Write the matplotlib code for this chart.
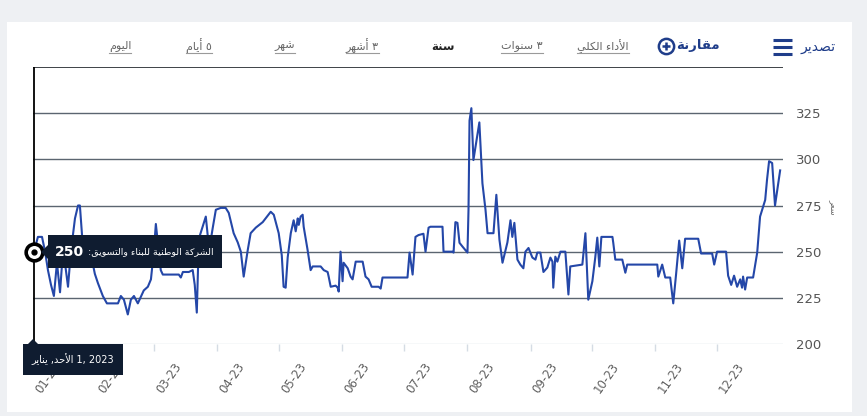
import numpy as np
import pandas as pd
import matplotlib
matplotlib.use("Agg")
import matplotlib.pyplot as plt
from matplotlib.patches import Rectangle, Polygon
from matplotlib.lines import Line2D

W, H = 867, 416

# day of year (0 = 1 Jan 2023) and share price
days = [0.5, 2.4, 4.4, 5.9, 7.3, 8.8, 10.2, 11.7, 13.2, 14.6, 15.6, 17.1, 18.5, 20.5,
        22.0, 22.9, 24.4, 25.4, 29.3, 30.2, 31.7, 34.1, 36.1, 39.0, 41.5, 42.9, 44.4,
        46.3, 47.8, 49.3, 51.2, 54.1, 56.1, 57.6, 59.0, 60.0, 62.4, 63.4, 71.2, 72.2,
        73.2, 76.1, 78.0, 79.0, 80.0, 81.0, 84.4, 85.4, 85.9, 87.8, 89.3, 91.7, 94.1,
        95.6, 98.0, 100.0, 101.5, 102.9, 104.9, 106.3, 108.8, 112.2, 116.1, 117.6,
        120.0, 121.5, 122.4, 123.4, 124.4, 125.9, 127.3, 128.3, 129.3, 129.8, 130.7,
        131.7, 132.2, 134.1, 135.6, 136.6, 140.5, 142.0, 143.9, 144.4, 145.4, 147.8,
        148.8, 149.3, 150.2, 151.2, 151.7, 153.7, 155.1, 156.1, 157.6, 161.0, 162.4,
        163.9, 165.4, 168.8, 169.8, 170.7, 182.9, 183.9, 185.4, 186.8, 188.3, 190.7,
        191.7, 193.2, 194.1, 200.0, 200.5, 204.9, 205.4, 206.3, 207.3, 208.3, 209.8,
        212.2, 212.7, 213.2, 214.1, 215.1, 218.0, 219.5, 221.0, 222.0, 224.9, 226.3,
        227.8, 229.3, 231.7, 233.2, 234.1, 235.1, 236.6, 238.0, 239.5, 240.5, 242.0,
        243.9, 245.4, 246.3, 247.8, 249.3, 251.2, 252.7, 253.7, 254.1, 255.1, 256.1,
        257.6, 260.0, 261.5, 262.4, 268.3, 269.8, 271.2, 273.2, 274.6, 275.6, 276.6,
        277.6, 283.0, 283.4, 284.4, 287.8, 289.3, 290.2, 304.9, 305.4, 307.3, 308.8,
        311.2, 312.7, 314.1, 315.6, 317.1, 318.5, 324.9, 326.3, 331.7, 332.7, 334.1,
        338.5, 339.5, 341.0, 342.4, 343.9, 345.4, 346.3, 346.8, 347.8, 348.8, 351.7,
        353.7, 355.1, 357.6, 358.5, 359.5, 361.0, 362.4, 364.9]
prices = [250, 258, 258, 250, 240, 232, 226, 244, 228, 250, 244, 231, 250, 268,
          275, 275, 252, 243, 243, 238, 233, 226, 222, 222, 222, 226, 224,
          216, 224, 226, 222, 229, 231, 235, 250, 265, 240, 237.6, 237.6, 236,
          239, 239, 240, 232, 217, 257, 269, 258, 250, 263, 272.7, 273.7, 273.7,
          271, 260, 255, 250, 236.5, 251, 260, 263, 266, 271.6, 270,
          260, 248, 231, 230.5, 247, 260, 267, 261, 268, 264.5, 269,
          270, 263.5, 251, 240, 242, 242, 240, 239, 236.5, 231, 231.6,
          230.5, 228.4, 250, 234, 244, 241, 236.5, 235, 244.6, 244.6, 236.5,
          235, 231, 231, 230, 236, 236, 249.5, 237.6, 258, 259, 259.7,
          250, 263, 263.5, 263.5, 250, 250, 249.5, 266, 265.6, 254.8, 252.7,
          249.5, 272.7, 321, 327.7, 299.6, 320, 287, 272.7, 260, 260, 280.8,
          256.5, 244, 255, 267, 258, 265.6, 245.7, 243, 241, 250, 252,
          246.8, 245.7, 249.5, 249.5, 239, 241.4, 246.8, 244.6, 230.5, 247.3, 244.6,
          250, 250, 226.8, 242, 243, 260, 224, 234, 246.8, 257.6, 242,
          258, 258, 254.8, 245.7, 245.7, 238.6, 243, 243, 236.5, 243, 236,
          236, 222, 238, 256, 241, 257, 257, 249, 249, 243, 250,
          250, 237, 232, 237, 231, 235, 230.5, 236.5, 229.5, 236, 236,
          249.5, 269, 278, 289, 299, 298, 275, 294]

y_ticks = [200, 225, 250, 275, 300, 325]
month_starts = pd.date_range("2023-01-01", "2023-12-01", freq="MS")
month_days = [(d - month_starts[0]).days for d in month_starts]
month_labels = [d.strftime("%m-%y") for d in month_starts]

tabs = ["اليوم", "٥ أيام", "شهر", "٣ أشهر", "سنة", "٣ سنوات", "الأداء الكلي"]
tab_x = [120, 199, 285, 362, 443, 522, 603]
selected_tab = "سنة"

BLUE = "#2447a8"
NAVY = "#1f3d8a"
TIP = "#0f1c30"

# minimal Arabic shaping (presentation forms) since matplotlib has no shaper
DUAL = {"ب": 0xFE8F, "ت": 0xFE95, "ح": 0xFEA1, "س": 0xFEB1, "ش": 0xFEB5, "ص": 0xFEB9,
        "ط": 0xFEC1, "ع": 0xFEC9, "ق": 0xFED5, "ك": 0xFED9, "ل": 0xFEDD, "م": 0xFEE1,
        "ن": 0xFEE5, "ه": 0xFEE9, "ي": 0xFEF1}
RIGHT = {"أ": 0xFE83, "ا": 0xFE8D, "ة": 0xFE93, "د": 0xFEA9, "ر": 0xFEAD, "و": 0xFEED}
NONJ = {"ء": 0xFE80}


def shape(text):
    units = []
    i = 0
    while i < len(text):
        c = text[i]
        if c == "ل" and i + 1 < len(text) and text[i + 1] in "اأ":
            units.append(("R", 0xFEFB if text[i + 1] == "ا" else 0xFEF7))
            i += 2
            continue
        if c in DUAL:
            units.append(("D", DUAL[c]))
        elif c in RIGHT:
            units.append(("R", RIGHT[c]))
        elif c in NONJ:
            units.append(("N", NONJ[c]))
        else:
            units.append(("X", c))
        i += 1
    out = []
    for k, (kind, val) in enumerate(units):
        if kind == "X":
            out.append(val)
            continue
        if kind == "N":
            out.append(chr(val))
            continue
        jp = k > 0 and units[k - 1][0] == "D"
        jn = kind == "D" and k + 1 < len(units) and units[k + 1][0] in ("D", "R")
        off = (3 if jp else 2) if jn else (1 if jp else 0)
        out.append(chr(val + off))
    return "".join(reversed(out))


def fx(x):
    return x / W


def fy(y):
    return 1 - y / H


fig = plt.figure(figsize=(W / 100, H / 100), dpi=100)
fig.patch.set_facecolor("#eef0f3")
fig.add_artist(Rectangle((fx(7), fy(412)), (852 - 7) / W, (412 - 22) / H,
                         transform=fig.transFigure, facecolor="white",
                         edgecolor="none", zorder=-1))

ax = fig.add_axes([fx(33), fy(344), 750 / W, 277 / H])
ax.set_facecolor("none")
for s in ax.spines.values():
    s.set_visible(False)

for y in y_ticks[1:]:
    ax.axhline(y, color="#5b6570", lw=1.0, zorder=1)
ax.axhline(200, color="#d5dce4", lw=1.0, zorder=1)
ax.axhline(350, color="#2f3439", lw=1.3, zorder=1)

ax.plot(days, prices, color=BLUE, lw=1.5, zorder=3)

ax.set_xlim(0.5, 366.3)
ax.set_ylim(200, 350)
ax.yaxis.tick_right()
ax.set_yticks(y_ticks)
ax.tick_params(axis="y", length=0, pad=9.5, labelsize=9.5, labelcolor="#555555")
ax.set_xticks(month_days)
ax.set_xticklabels(month_labels, rotation=55, ha="left")
ax.tick_params(axis="x", length=5, width=1, color="#d5dce4", pad=7,
               labelsize=8.5, labelcolor="#606060")

# crosshair and hovered point
ax.axvline(days[0], color="black", lw=1.3, zorder=4)
ax.plot(days[0], prices[0], "o", ms=12, mfc="white", mec="black", mew=2.6,
        zorder=6, clip_on=False)
ax.plot(days[0], prices[0], "o", ms=3.5, color="black", zorder=7, clip_on=False)

# value tooltip
fig.add_artist(Rectangle((fx(48), fy(268)), 174 / W, 33 / H, transform=fig.transFigure,
                         facecolor=TIP, edgecolor="none", zorder=5))
fig.add_artist(Polygon([(fx(48), fy(245)), (fx(41), fy(252)), (fx(48), fy(259))],
                       closed=True, transform=fig.transFigure, facecolor=TIP,
                       edgecolor="none", zorder=5))
fig.text(fx(55), fy(252), "250", color="white", fontsize=10, fontweight="bold",
         va="center", ha="left", zorder=6)
fig.text(fx(214), fy(252), shape("الشركة الوطنية للبناء والتسويق:"), color="white",
         fontsize=6.8, va="center", ha="right", zorder=6)

# date tooltip
fig.add_artist(Rectangle((fx(23), fy(375)), 100 / W, 31 / H, transform=fig.transFigure,
                         facecolor=TIP, edgecolor="none", zorder=5))
fig.add_artist(Polygon([(fx(28), fy(344)), (fx(33), fy(339)), (fx(38), fy(344))],
                       closed=True, transform=fig.transFigure, facecolor=TIP,
                       edgecolor="none", zorder=5))
fig.text(fx(73), fy(359), shape("الأحد, يناير") + " 1, 2023", color="white",
         fontsize=7, va="center", ha="center", zorder=6)

# y axis title
fig.text(fx(834), fy(207), shape("سعر"), rotation=270, fontsize=6, color="#666666",
         va="center", ha="center")

# header: range tabs
renderer = fig.canvas.get_renderer()
for label, x in zip(tabs, tab_x):
    if label == selected_tab:
        fig.text(fx(x), fy(46), shape(label), fontsize=8.5, fontweight="bold",
                 color="#222222", ha="center", va="center")
        continue
    t = fig.text(fx(x), fy(46), shape(label), fontsize=8, color="#666666",
                 ha="center", va="center")
    bb = t.get_window_extent(renderer)
    fig.add_artist(Line2D([bb.x0 / W, bb.x1 / W], [fy(53), fy(53)],
                          transform=fig.transFigure, color="#9a9a9a", lw=0.8))

# compare button
fig.text(fx(698), fy(46), shape("مقارنة"), fontsize=9.5, fontweight="bold",
         color=NAVY, ha="center", va="center")
fig.add_artist(Line2D([fx(666)], [fy(46)], marker="o", ms=11, mfc="none", mec=NAVY,
                      mew=1.8, transform=fig.transFigure))
fig.add_artist(Line2D([fx(666)], [fy(46)], marker="+", ms=6, mec=NAVY, mew=1.8,
                      transform=fig.transFigure))

# export button
fig.text(fx(818), fy(47), shape("تصدير"), fontsize=10, color=NAVY,
         ha="center", va="center")
for yy in (40, 47, 54):
    fig.add_artist(Line2D([fx(773), fx(792)], [fy(yy), fy(yy)], color=NAVY, lw=2.2,
                          solid_capstyle="butt", transform=fig.transFigure))

fig.savefig("out.png", dpi=100)
